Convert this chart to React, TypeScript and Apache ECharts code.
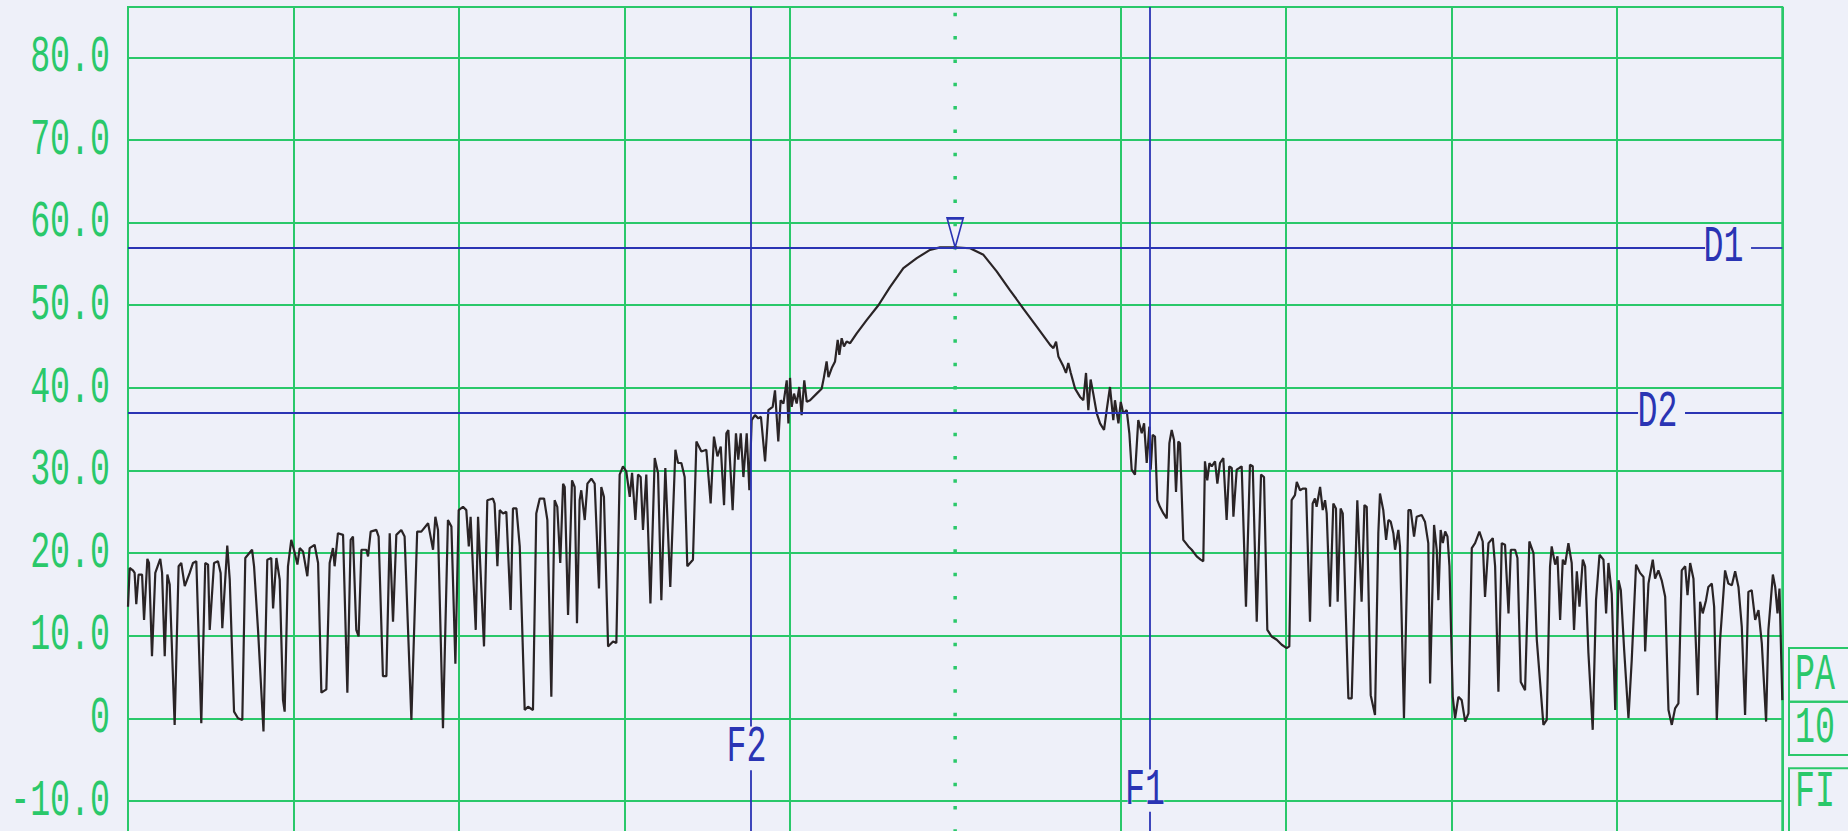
import React, { useEffect, useRef } from "react";
import * as echarts from "echarts";

// Spectrum trace as [frequency, level dB]; frequency runs 0..1000 across the 10 divisions.
const skirtLowA: [number, number][] = [
  [0, 13.5], [1.0, 18.2], [3.0, 17.9], [4.0, 17.6], [5.0, 13.8], [6.4, 17.4], [8.5, 17.4], [9.7, 11.9],
  [11.7, 19.3], [12.7, 18.8], [14.5, 7.5], [16.5, 17.6], [19.5, 19.3], [20.6, 17.6], [22.2, 7.5], [23.8, 17.4],
  [25.2, 16.2], [28.2, -0.8], [30.6, 18.4], [32.2, 18.8], [34.3, 16.0], [37.3, 17.6], [39.3, 18.8], [41.3, 19.0],
  [44.3, -0.6], [46.7, 18.8], [48.4, 18.6], [49.4, 10.7], [52.0, 18.8], [54.4, 19.0], [56.0, 17.6], [57.0, 10.9],
  [60.0, 20.9], [61.5, 16.8], [64.1, 0.8], [66.5, 0.0], [69.1, -0.2], [70.9, 19.4], [75.0, 20.4], [76.2, 18.4],
  [78.6, 10.7], [81.9, -1.6], [84.2, 19.2], [86.6, 19.4], [87.7, 13.3], [89.7, 19.4], [91.7, 16.8], [93.7, 2.2],
  [94.7, 0.8], [96.7, 18.4], [98.7, 21.6], [100.8, 20.0], [102.4, 18.6], [103.8, 20.6], [105.8, 20.2], [108.4, 17.2],
  [109.8, 20.6], [112.8, 21.0], [114.9, 18.8], [116.9, 3.1], [119.9, 3.5], [121.9, 18.8], [123.9, 20.6], [124.9, 18.4],
  [126.9, 22.4], [130.0, 22.2], [132.6, 3.1], [134.6, 21.6], [136.0, 22.0], [138.0, 10.7], [139.4, 9.9], [141.1, 20.4],
  [144.1, 20.4], [145.1, 19.6], [146.7, 22.6], [150.1, 22.8], [151.5, 22.0], [154.1, 5.1], [156.2, 5.1], [158.2, 22.4],
  [160.2, 11.7], [162.2, 22.2], [165.2, 22.8], [167.2, 22.0], [171.3, -0.2], [174.8, 22.6], [177.3, 22.6],
];

const skirtLowB: [number, number][] = [
  [181.4, 23.6], [184.4, 20.4], [185.8, 24.4], [187.4, 22.8], [190.4, -1.2], [193.4, 24.0], [195.5, 23.2], [197.9, 6.6],
  [199.9, 25.2], [202.5, 25.6], [204.5, 25.2], [206.0, 20.8], [207.1, 24.4], [210.2, 10.7], [211.6, 24.4], [215.2, 8.7],
  [217.2, 26.4], [220.6, 26.6], [221.6, 26.0], [223.3, 18.4], [224.7, 25.2], [226.7, 24.8], [228.7, 25.0], [231.3, 13.1],
  [232.7, 25.4], [234.8, 25.4], [236.8, 20.8], [239.8, 1.0], [241.8, 1.4], [244.8, 1.0], [246.8, 24.8], [248.9, 26.6],
  [251.5, 26.6], [253.5, 24.0], [255.9, 2.6], [257.9, 26.4], [259.5, 25.6], [261.3, 18.8], [263.0, 28.4], [264.0, 28.0],
  [266.0, 12.5], [268.4, 28.8], [270.0, 28.0], [271.4, 11.5], [273.0, 26.4], [274.0, 27.6], [276.1, 24.0], [277.7, 28.4],
  [280.1, 29.0], [282.1, 28.4], [284.7, 15.7], [286.1, 28.0], [287.7, 26.8], [290.2, 8.7], [293.2, 9.3], [295.2, 9.1],
  [297.2, 29.5], [299.2, 30.5], [301.2, 29.9], [303.3, 26.8], [304.7, 29.7], [306.7, 24.0], [308.3, 29.5], [309.9, 29.2],
  [311.3, 22.8], [313.3, 29.5], [315.8, 13.9], [318.4, 31.5], [320.4, 29.7], [322.4, 14.3], [324.8, 30.3], [327.8, 15.9],
  [330.9, 32.5], [332.5, 30.9], [334.5, 30.9], [336.5, 29.2], [338.1, 18.4], [341.5, 19.2], [343.6, 33.5], [346.6, 32.3],
  [349.6, 32.5], [352.2, 26.0], [354.2, 34.1], [356.3, 31.7], [358.3, 32.9], [360.3, 25.8], [361.7, 34.5],
];

const mainLobe: [number, number][] = [
  [362.9, 34.9], [365.5, 25.2], [367.5, 34.5], [368.9, 31.3], [370.4, 34.5], [372.0, 29.2], [374.0, 34.5], [375.6, 27.6],
  [377.0, 36.1], [379.0, 36.7], [381.0, 36.3], [382.6, 36.5], [385.1, 31.1], [387.1, 37.3], [389.7, 37.7], [391.1, 39.7],
  [393.1, 33.5], [394.5, 38.5], [396.2, 38.1], [398.2, 40.9], [399.2, 35.7], [400.2, 41.2], [401.2, 37.7], [402.6, 39.3],
  [404.2, 38.1], [405.8, 40.1], [407.2, 36.7], [408.8, 40.9], [410.3, 38.3], [412.3, 38.5], [416.3, 39.3], [419.3, 39.9],
  [420.7, 41.3], [422.3, 43.2], [423.4, 41.3], [425.4, 42.4], [427.4, 43.2], [429.0, 45.8], [430.0, 44.0], [431.4, 46.0],
  [432.8, 45.0], [434.4, 45.6], [436.5, 45.4], [440.5, 46.6], [446.5, 48.2], [453.6, 50.0], [460.6, 52.2], [468.7, 54.5],
  [476.8, 55.7], [484.8, 56.7], [490.9, 57.0], [500.0, 57.0], [509.0, 56.9], [517.1, 56.1], [525.1, 54.1], [533.2, 51.8],
  [541.2, 49.6], [549.3, 47.4], [557.4, 45.2], [559.4, 44.8], [561.0, 45.6], [562.4, 43.8], [565.4, 42.6], [567.0, 41.8],
  [568.4, 43.0], [569.9, 41.8], [572.5, 39.9], [575.5, 38.9], [577.5, 38.5], [579.1, 41.8], [580.5, 37.3], [581.9, 41.0],
  [583.5, 39.3], [585.6, 36.9], [587.6, 35.7], [590.0, 34.9], [591.6, 37.3], [593.6, 40.1], [595.6, 36.1], [596.6, 38.5],
  [598.7, 35.7], [600.1, 38.3], [601.7, 36.9], [603.7, 37.3], [605.3, 34.5], [606.7, 30.1], [608.7, 29.5], [610.7, 36.1],
  [612.8, 34.5], [614.2, 35.7], [615.8, 30.9], [617.4, 35.3],
];

const skirtHighA: [number, number][] = [
  [618.2, 30.1], [619.4, 34.3], [620.8, 34.1], [622.2, 26.4], [623.8, 25.6], [625.9, 24.8], [627.9, 24.2], [629.5, 33.3],
  [630.9, 34.9], [632.3, 33.7], [633.5, 27.4], [634.9, 33.5], [635.9, 33.3], [637.9, 21.6], [641.0, 20.8], [643.0, 20.4],
  [646.0, 19.6], [648.4, 19.2], [650.0, 19.0], [651.0, 31.1], [652.4, 28.8], [653.7, 30.9], [655.1, 30.5], [657.1, 31.1],
  [658.5, 28.4], [660.1, 30.9], [662.1, 31.5], [664.1, 24.0], [665.7, 30.5], [667.2, 30.3], [668.2, 24.4], [670.2, 30.1],
  [671.8, 30.3], [673.2, 30.5], [675.8, 13.5], [678.2, 30.7], [679.9, 30.5], [682.3, 11.7], [684.9, 29.5], [686.7, 29.2],
  [688.7, 10.7], [691.3, 9.9], [694.4, 9.5], [697.4, 8.9], [700.4, 8.5], [702.0, 8.7], [703.4, 26.4], [705.4, 27.0],
  [706.5, 28.6], [708.5, 27.6], [710.1, 27.8], [712.1, 27.8], [714.5, 11.7], [716.1, 26.0], [717.5, 26.6], [718.5, 25.6],
  [720.6, 28.0], [722.2, 25.2], [723.6, 26.4], [724.6, 24.8], [726.6, 13.5], [728.6, 26.0], [730.2, 25.4], [731.2, 14.1],
  [733.0, 25.4], [734.3, 24.8], [737.7, 2.4], [739.7, 2.4], [743.1, 26.4], [745.7, 14.1], [747.4, 25.8], [748.8, 25.6],
  [751.2, 2.8], [753.8, 0.4], [755.8, 22.4], [756.8, 27.2], [758.8, 25.2], [760.5, 21.6], [761.9, 24.0], [763.3, 23.8],
  [764.9, 22.4], [765.9, 20.4], [767.9, 22.8], [768.9, 20.8], [771.3, 0.0], [774.0, 25.2], [775.4, 25.2], [777.4, 22.0],
  [779.0, 24.4], [782.0, 24.6], [784.0, 23.8], [786.0, 21.2],
];

const skirtHighB: [number, number][] = [
  [787.1, 4.2], [789.5, 23.4], [791.1, 20.4], [792.1, 14.3], [793.5, 22.8], [794.8, 21.2], [796.2, 22.6], [797.6, 22.0],
  [798.8, 18.4], [800.8, 2.6], [802.2, 0.0], [804.2, 2.6], [806.2, 2.2], [808.3, -0.4], [810.3, 0.6], [812.3, 20.6],
  [814.3, 21.2], [816.9, 22.6], [818.9, 21.4], [820.3, 14.7], [822.4, 21.2], [825.0, 21.8], [826.4, 18.4], [828.4, 3.2],
  [830.4, 21.2], [832.4, 21.0], [834.5, 12.7], [835.9, 20.4], [838.5, 20.4], [839.9, 19.4], [841.9, 4.4], [844.5, 3.4],
  [847.1, 21.4], [849.6, 20.0], [851.6, 9.5], [855.6, -0.8], [857.6, -0.2], [859.6, 18.4], [860.6, 20.8], [862.7, 18.6],
  [864.1, 19.6], [865.7, 11.9], [867.3, 19.2], [868.7, 18.6], [870.7, 21.2], [872.7, 18.8], [874.1, 10.7], [875.8, 17.8],
  [877.4, 13.5], [879.4, 19.2], [880.8, 18.4], [882.8, 7.9], [885.4, -1.4], [887.4, 14.3], [889.5, 19.8], [891.9, 19.2],
  [893.5, 12.7], [894.9, 18.8], [896.9, 15.1], [899.0, 1.0], [901.0, 16.7], [902.4, 15.5], [904.4, 8.3], [907.0, 0.0],
  [909.0, 7.1], [911.6, 18.6], [914.0, 17.6], [916.1, 17.1], [917.1, 8.1], [919.1, 16.3], [921.7, 19.2], [923.1, 16.9],
  [925.1, 17.9], [927.1, 16.7], [929.2, 14.7], [931.2, 1.0], [933.2, -0.8], [935.2, 1.2], [937.2, 1.8], [939.2, 17.9],
  [941.3, 18.4], [942.7, 14.9], [944.3, 18.8], [946.3, 16.9], [948.9, 2.8], [950.3, 14.1], [951.9, 12.7], [953.9, 14.3],
  [955.3, 15.9], [957.4, 16.3], [958.8, 13.5], [960.4, -0.2], [962.4, 9.5], [965.4, 17.9], [967.4, 16.3], [969.5, 16.1],
  [971.5, 17.8], [973.5, 15.9], [975.5, 11.1], [977.5, 0.4], [979.5, 15.3], [981.5, 15.5], [983.6, 11.9], [985.6, 13.1],
  [987.6, 9.1], [990.2, -0.4], [991.6, 10.7], [994.3, 17.4], [995.7, 15.9], [997.1, 12.7], [998.3, 15.7], [1000, 2.2],
];

// Display lines (dB) and frequency cursors
const displayLines = [
  { name: "D1", level: 57.0 },
  { name: "D2", level: 37.0 },
];
const freqCursors = [
  { name: "F2", freq: 376.3 },
  { name: "F1", freq: 617.8 },
];
const centerFreq = 500;
const peakMarker: [number, number] = [500, 57.0];

// Frequency axis: 10 divisions
const freqMin = 0;
const freqMax = 1000;
const freqStep = 100;

// Level axis
const levelMin = -20;
const levelMax = 86.1;
const levelStep = 10;
const levelTicks = [-10, 0, 10, 20, 30, 40, 50, 60, 70, 80];

// Side panel softkey labels
const panelKeys = ["PA", "10", "FI"];

const GREEN = "#2ac86a";
const BLUE = "#2a34b4";
const TRACE = "#2a2426";
const BG = "#eef0f9";

// Plotter-style lettering: a monospaced face squeezed horizontally
const PLOT_FONT = '"Liberation Mono", "DejaVu Sans Mono", monospace';
const PLOT_SIZE = 52;
const PLOT_SCALE_X = 0.64;

function plotterText(
  text: string,
  x: number,
  y: number,
  fill: string,
  align: "left" | "center" | "right"
) {
  return {
    type: "text",
    x,
    y,
    scaleX: PLOT_SCALE_X,
    scaleY: 1,
    silent: true,
    z: 10,
    style: {
      text,
      fill,
      // thin the strokes a little, like a pen plotter's single-stroke letters
      stroke: BG,
      lineWidth: 1.4,
      font: `${PLOT_SIZE}px ${PLOT_FONT}`,
      align,
      verticalAlign: "middle",
      textAlign: align,
      textVerticalAlign: "middle",
    },
  };
}

export default function App() {
  const ref = useRef<HTMLDivElement>(null);

  useEffect(() => {
    if (!ref.current) return;
    const chart = echarts.init(ref.current, undefined, { renderer: "svg" });
    const trace = [...skirtLowA, ...skirtLowB, ...mainLobe, ...skirtHighA, ...skirtHighB];

    // Gaps left open in each cursor line for its caption (axis units)
    const dGaps: Record<string, [number, number]> = { D1: [953.3, 981.1], D2: [912.8, 941.2] };
    const fGaps: Record<string, [number, number]> = { F2: [-1.0, -6.3], F1: [-6.2, -11.3] };
    // Caption anchors (axis units)
    const captionAt: Record<string, [number, number]> = {
      D1: [964.4, 57.0],
      D2: [924.6, 37.0],
      F2: [373.8, -3.5],
      F1: [614.8, -8.7],
    };

    const blueStyle = { color: BLUE, width: 1.8, type: "solid" as const };
    const cursorLines: any[] = [];
    displayLines.forEach((d) => {
      const [g0, g1] = dGaps[d.name];
      cursorLines.push([{ coord: [freqMin, d.level] }, { coord: [g0, d.level] }]);
      cursorLines.push([{ coord: [g1, d.level] }, { coord: [freqMax, d.level] }]);
    });
    freqCursors.forEach((f) => {
      const [g0, g1] = fGaps[f.name];
      cursorLines.push([{ coord: [f.freq, levelMax] }, { coord: [f.freq, g0] }]);
      cursorLines.push([{ coord: [f.freq, g1] }, { coord: [f.freq, levelMin] }]);
    });

    // Vertical graticule colours; the centre division is left to the dotted line
    const vGridColors: string[] = [];
    for (let f = freqMin; f <= freqMax; f += freqStep) {
      vGridColors.push(f === centerFreq ? "rgba(0,0,0,0)" : GREEN);
    }

    chart.setOption({
      animation: false,
      backgroundColor: "transparent",
      grid: {
        left: 128,
        right: 65.7,
        top: 7,
        bottom: 16.5,
        show: true,
        borderColor: GREEN,
        borderWidth: 2,
        backgroundColor: "transparent",
        outerBoundsMode: "none",
        containLabel: false,
      },
      xAxis: {
        type: "value",
        min: freqMin,
        max: freqMax,
        interval: freqStep,
        axisLine: { show: false },
        axisTick: { show: false },
        axisLabel: { show: false },
        splitLine: { show: true, lineStyle: { color: vGridColors, width: 2 } },
      },
      yAxis: {
        type: "value",
        min: levelMin,
        max: levelMax,
        interval: levelStep,
        axisLine: { show: false },
        axisTick: { show: false },
        axisLabel: { show: false },
        splitLine: { show: true, lineStyle: { color: GREEN, width: 2 } },
      },
      series: [
        {
          name: "trace",
          type: "line",
          data: trace,
          showSymbol: false,
          symbol: "none",
          lineStyle: { color: TRACE, width: 2.2 },
          z: 3,
          markPoint: {
            silent: true,
            data: [
              {
                coord: peakMarker,
                symbol: "path://M0,0L16,0L8,29Z",
                symbolSize: [16, 29],
                symbolOffset: [0, -14.5],
                itemStyle: { color: "rgba(0,0,0,0)", borderColor: BLUE, borderWidth: 2 },
                label: { show: false },
              },
            ],
          },
        },
        {
          name: "cursors",
          type: "line",
          data: [],
          silent: true,
          z: 4,
          markLine: {
            silent: true,
            symbol: ["none", "none"],
            label: { show: false },
            lineStyle: blueStyle,
            data: cursorLines,
          },
        },
      ],
    });

    const px = (u: number, v: number) => chart.convertToPixel({ gridIndex: 0 }, [u, v]) as number[];

    // Level scale captions, right-aligned against the frame
    const [gridLeft] = px(freqMin, 0);
    const levelCaptions = levelTicks.map((v) =>
      plotterText(v === 0 ? "0" : v.toFixed(1), gridLeft - 18, px(freqMin, v)[1], GREEN, "right")
    );

    // Dotted centre-frequency line
    const cTop = px(centerFreq, levelMax);
    const cBot = px(centerFreq, levelMin);
    const centerLine = {
      type: "line",
      silent: true,
      z: 2,
      shape: { x1: cTop[0], y1: cTop[1] + 5.75, x2: cBot[0], y2: cBot[1] },
      style: { stroke: GREEN, lineWidth: 3.5, lineDash: [3.5, 19.83] },
    };

    const cursorCaptions = [...displayLines, ...freqCursors].map((c) => {
      const [u, v] = captionAt[c.name];
      const p = px(u, v);
      return plotterText(c.name, p[0], p[1], BLUE, "center");
    });

    // Softkey boxes at the right-hand edge
    const boxTops = [648, 701.7, 768.3];
    const boxHeights = [53.7, 53.3, 90];
    const panel: any[] = [];
    panelKeys.forEach((k, i) => {
      panel.push({
        type: "rect",
        silent: true,
        shape: { x: 1789, y: boxTops[i], width: 90, height: boxHeights[i] },
        style: { fill: "none", stroke: GREEN, lineWidth: 2 },
      });
      const cy = i === 2 ? boxTops[i] + 24.5 : boxTops[i] + boxHeights[i] / 2;
      panel.push(plotterText(k, 1795, cy, GREEN, "left"));
    });

    chart.setOption({
      graphic: [centerLine, ...levelCaptions, ...cursorCaptions, ...panel],
    });

    return () => chart.dispose();
  }, []);

  return (
    <div
      style={{
        position: "fixed",
        left: 0,
        top: 0,
        width: 1848,
        height: 831,
        overflow: "hidden",
        background: BG,
      }}
    >
      <div ref={ref} style={{ width: 1848, height: 900 }} />
    </div>
  );
}
